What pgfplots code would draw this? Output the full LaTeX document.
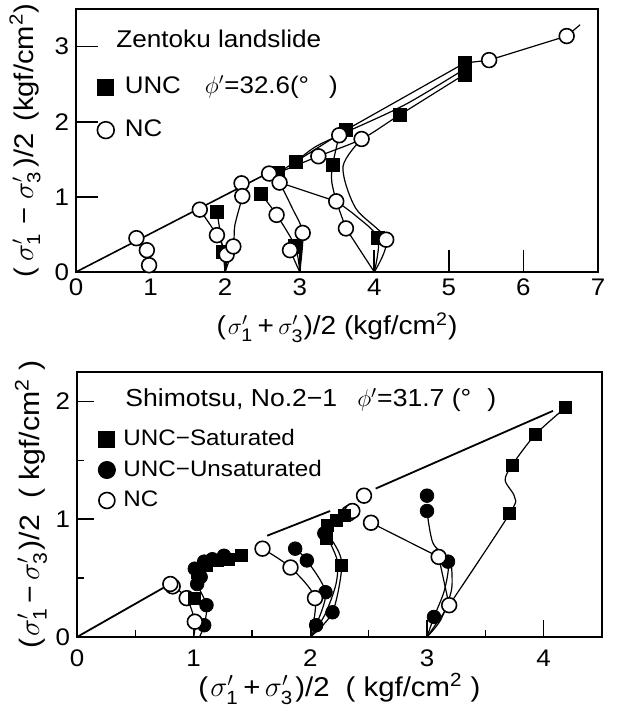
\documentclass[border=0pt]{standalone}
\usepackage{amsmath}
\usepackage{fontspec}
\setmainfont{Liberation Sans}[FakeStretch=1.08]
\usepackage{pgfplots}
\pgfplotsset{compat=1.18}
\newcommand{\sg}[1]{$\sigma'_{\text{#1}}$}
\newcommand{\fs}[1]{\fontsize{#1}{#1}\selectfont}
\pgfplotsset{
  pathline/.style={forget plot, black, line width=0.6pt, smooth, tension=0.5},
  unc/.style={forget plot, only marks, mark=square*, mark size=3.3pt, black},
  nc/.style={forget plot, only marks, mark=*, mark size=3.7pt, mark options={fill=white, draw=black, line width=0.8pt}},
  uncu/.style={forget plot, only marks, mark=*, mark size=3.4pt, black},
  common/.style={
    scale only axis, anchor=south west,
    tick align=inside, xtick pos=bottom, ytick pos=left,
    tick style={black, line width=0.8pt},
    ticklabel style={font=\fs{12}},
    /pgf/number format/assume math mode=true,
    legend cell align=left,
    clip=false,
  },
}
\begin{document}
\begin{tikzpicture}[font=\fs{12}]
\useasboundingbox (0,0) rectangle (308pt,356pt);
% ---- upper panel: Zentoku landslide
\begin{axis}[common,
  at={(38pt,220pt)}, width=261pt, height=131.5pt,
  xmin=0, xmax=7, ymin=0, ymax=3.5,
  xtick={0,...,7}, ytick={0,1,2,3},
  major tick length=11pt,
  axis line style={line width=1pt},
  xlabel={(\hspace{1pt}\sg{1}\,+\,\sg{3})/2 (kgf/cm\textsuperscript{2})},
  ylabel={(\hspace{3pt}\sg{1}\hspace{4pt}−\hspace{4pt}\sg{3}\hspace{2pt})/2\hspace{6pt}(kgf/cm\textsuperscript{2})},
  every axis x label/.style={at={(axis description cs:0.5,-0.211)}, anchor=center, inner sep=1pt, font=\fs{13}},
  every axis y label/.style={at={(axis description cs:-0.0977,0.5)}, rotate=90, anchor=center, inner sep=1pt, font=\fs{13.5}},
  legend style={at={(axis description cs:0.0402,0.752)}, anchor=north west,
    draw=none, fill=none, inner sep=0pt, row sep=9pt, column sep=5.3pt,
    nodes={inner sep=0pt, text height=9.5pt, text depth=3pt},
    font=\fs{12}},
]
\addlegendimage{only marks, mark=square*, mark size=4pt, black}
\addlegendentry{UNC\hspace{12pt}$\phi'$=32.6(°\hspace{10pt})}
\addlegendimage{only marks, mark=*, mark size=4.2pt, mark options={fill=white, draw=black, line width=0.8pt}}
\addlegendentry{NC}
% failure line
\addplot[forget plot, black, line width=0.8pt] coordinates {(0,0) (2.6,1.33)};
% stress paths
\addplot[pathline] coordinates {(1,0) (0.98,0.09) (0.95,0.29) (0.81,0.45)};
\addplot[pathline] coordinates {(2,0) (2.02,0.23) (1.89,0.49) (1.66,0.83)};
\addplot[pathline] coordinates {(2,0) (1.97,0.27) (1.93,0.55) (1.89,0.80)};
\addplot[pathline] coordinates {(2,0) (2.11,0.34) (2.13,0.62) (2.23,1.01) (2.22,1.18)};
\addplot[pathline] coordinates {(3,0) (2.94,0.34) (2.69,0.76) (2.48,1.04)};
\addplot[pathline] coordinates {(3,0) (2.87,0.29)};
\addplot[pathline] coordinates {(3,0) (3.04,0.52) (2.90,0.85) (2.73,1.19)};
\addplot[forget plot, black, line width=0.6pt] coordinates {(4,0) (3.62,0.58) (3.49,0.94) (2.73,1.19)};
\addplot[pathline] coordinates {(4,0) (4.05,0.45) (3.75,0.75) (3.49,0.94)};
\addplot[pathline] coordinates {(4,0) (4.16,0.43) (3.75,0.85) (3.58,1.40) (3.83,1.77)};
\addplot[pathline] coordinates {(3.49,0.94) (3.43,1.20) (3.44,1.42) (3.53,1.82)};
\addplot[forget plot, black, line width=0.6pt] coordinates {(2.59,1.31) (2.71,1.32) (2.95,1.47) (3.62,1.89) (5.21,2.78) (5.54,2.82) (6.58,3.14) (6.76,3.29)};
\addplot[pathline] coordinates {(2.71,1.32) (3.25,1.54) (3.83,1.77) (4.34,2.09) (5.21,2.63)};
\addplot[pathline] coordinates {(2.95,1.47) (3.20,1.66) (3.53,1.82) (4.40,2.22) (5.21,2.70)};
% markers
\addplot[unc] coordinates {(1.89,0.80) (1.97,0.27) (2.48,1.04) (2.71,1.32) (2.95,1.47) (2.94,0.34)
  (3.44,1.42) (3.62,1.89) (4.05,0.45) (4.34,2.09) (5.21,2.78) (5.21,2.63)};
\addplot[nc] coordinates {(0.81,0.45) (0.95,0.29) (0.98,0.09) (1.66,0.83) (1.89,0.49) (2.02,0.23)
  (2.11,0.34) (2.22,1.18) (2.23,1.01) (2.59,1.31) (2.73,1.19) (2.69,0.76) (3.04,0.52) (2.87,0.29)
  (3.25,1.54) (3.53,1.82) (3.83,1.77) (3.49,0.94) (3.62,0.58) (4.16,0.43) (5.54,2.82) (6.58,3.14)};
\node[anchor=west, inner sep=0pt, font=\fs{12.1}] at (axis description cs:0.0766,0.886) {Zentoku landslide};
\end{axis}
% ---- lower panel: Shimotsu
\begin{axis}[common,
  at={(38.5pt,37.5pt)}, width=262.5pt, height=132.5pt,
  xmin=0, xmax=4.5, ymin=0, ymax=2.25,
  xtick={0,1,2,3,4}, ytick={0,1,2},
  minor xtick={0.5,1.5,2.5,3.5}, minor ytick={0.5,1.5},
  major tick length=8.5pt, minor tick length=3.5pt,
  axis line style={line width=1.4pt},
  xticklabel style={yshift=-3pt},
  xlabel={(\hspace{1pt}\sg{1}\,+\,\sg{3}\hspace{1pt})/2\hspace{8pt}( kgf/cm\textsuperscript{2} )},
  ylabel={(\hspace{1pt}\sg{1}\,−\,\sg{3}\hspace{1pt})/2\hspace{8pt}( kgf/cm\textsuperscript{2} )},
  every axis x label/.style={at={(axis description cs:0.5,-0.196)}, anchor=center, inner sep=1pt, font=\fs{13.6}},
  every axis y label/.style={at={(axis description cs:-0.0876,0.5)}, rotate=90, anchor=center, inner sep=1pt, font=\fs{14}},
  legend style={at={(axis description cs:0.0398,0.794)}, anchor=north west,
    draw=none, fill=none, inner sep=0pt, row sep=2.75pt, column sep=4pt,
    nodes={inner sep=0pt, text height=9.5pt, text depth=3pt},
    font=\fs{11.2}},
]
\addlegendimage{only marks, mark=square*, mark size=4pt, black}
\addlegendentry{UNC−Saturated}
\addlegendimage{only marks, mark=*, mark size=4.3pt, black}
\addlegendentry{UNC−Unsaturated}
\addlegendimage{only marks, mark=*, mark size=4pt, mark options={fill=white, draw=black, line width=0.8pt}}
\addlegendentry{NC}
% failure line (drawn in pieces)
\addplot[forget plot, black, line width=0.9pt] coordinates {(0,0) (0.78,0.44)};
\addplot[forget plot, black, line width=0.9pt] coordinates {(1.63,0.86) (2.17,1.07)};
\addplot[forget plot, black, line width=0.9pt] coordinates {(2.56,1.26) (4.08,1.92)};
% stress paths
\addplot[pathline] coordinates {(1,0) (1.01,0.13) (0.94,0.33) (0.80,0.45)};
\addplot[pathline] coordinates {(1.05,0) (1.09,0.10) (1.11,0.27) (1.03,0.45) (1.01,0.58)};
\addplot[pathline] coordinates {(2,0) (2.04,0.33) (1.83,0.59) (1.59,0.75)};
\addplot[pathline] coordinates {(2,0) (2.05,0.10) (2.13,0.38) (1.97,0.65) (1.87,0.75)};
\addplot[pathline] coordinates {(2,0) (2.19,0.21) (2.27,0.61) (2.20,0.80) (2.12,0.88)};
\addplot[pathline] coordinates {(2.02,0.02) (2.13,0.20) (2.22,0.45) (2.23,0.65) (2.15,0.85) (2.15,0.95)};
\addplot[pathline] coordinates {(2.15,0.95) (2.22,0.99) (2.29,1.03) (2.36,1.07)};
\addplot[forget plot, black, line width=0.6pt] coordinates {(3,0) (3.19,0.27) (3.10,0.68) (2.52,0.97)};
\addplot[pathline] coordinates {(3,0) (3.06,0.17) (3.15,0.40) (3.18,0.64) (3.05,0.80) (3.00,1.07)};
\addplot[pathline] coordinates {(3,0) (3.12,0.15) (3.21,0.40) (3.21,0.60)};
\addplot[pathline] coordinates {(3.19,0.27) (3.71,1.05) (3.75,1.19) (3.67,1.33) (3.73,1.46) (3.93,1.72) (4.19,1.95)};
% markers
\addplot[uncu] coordinates {(1.09,0.10) (1.11,0.27) (1.01,0.58) (1.03,0.45) (1.06,0.51) (1.09,0.64)
  (1.16,0.66) (1.26,0.69) (1.87,0.75) (1.97,0.65) (2.13,0.38) (2.19,0.21) (2.05,0.10) (2.12,0.88)
  (3.00,1.20) (3.00,1.07) (3.18,0.64) (3.06,0.17)};
\addplot[nc] coordinates {(0.82,0.43) (0.80,0.45) (0.94,0.33) (1.01,0.13) (1.59,0.75) (1.83,0.59)
  (2.04,0.33) (2.33,1.05) (2.36,1.07) (2.46,1.20) (2.52,0.97) (3.10,0.68) (3.19,0.27)};
\addplot[unc, mark size=3pt] coordinates {(1.01,0.33) (1.03,0.55) (1.11,0.61) (1.20,0.65) (1.30,0.66)
  (1.41,0.69) (2.14,0.84) (2.15,0.95) (2.22,0.99) (2.29,1.03) (2.27,0.61)
  (3.71,1.05) (3.73,1.46) (3.93,1.72) (4.19,1.95)};
\node[anchor=west, inner sep=0pt, font=\fs{12.3}] at (axis description cs:0.0914,0.894) {Shimotsu, No.2−1\hspace{10pt}$\phi'$=31.7 (°\hspace{8pt})};
\end{axis}
\end{tikzpicture}
\end{document}
